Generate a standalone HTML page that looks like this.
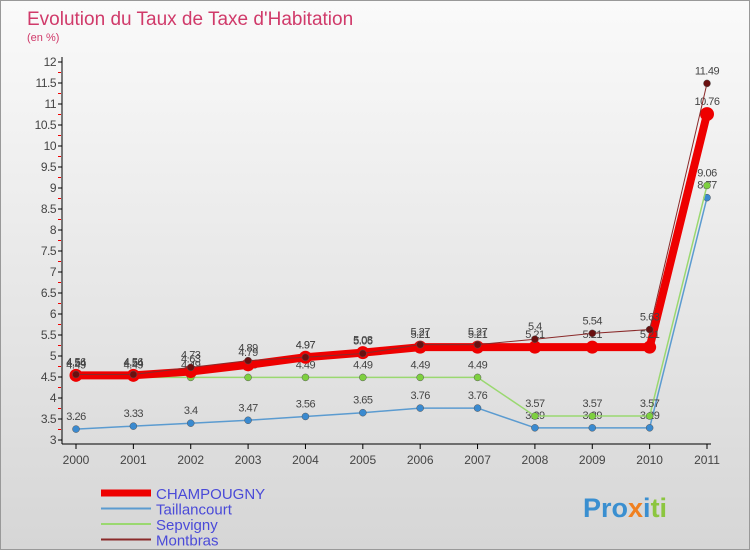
<!DOCTYPE html>
<html><head><meta charset="utf-8"><style>
body{margin:0;width:750px;height:550px;overflow:hidden;font-family:"Liberation Sans",sans-serif}
#wrap{position:absolute;left:0;top:0;width:748px;height:548px;border:1px solid #999;background:linear-gradient(#fafafa,#d6d6d6)}
</style></head><body>
<div id="wrap">
<svg id="c" width="750" height="550" style="position:absolute;left:0;top:0">
<text x="26" y="24" font-size="19" fill="#d03a6a">Evolution du Taux de Taxe d'Habitation</text>
<text x="26" y="40" font-size="11" fill="#d03a6a">(en %)</text>
<g id="axes"></g><g id="series"></g><g id="legend"></g>
<text x="582" y="516" font-size="27" font-weight="bold" fill="#3a8fd0">Pro<tspan fill="#f08020">x</tspan><tspan fill="#3a8fd0">i</tspan><tspan fill="#8cc63f">ti</tspan></text>
</svg></div>
<script>
const years=["2000","2001","2002","2003","2004","2005","2006","2007","2008","2009","2010","2011"];
const yTicks=[3,3.5,4,4.5,5,5.5,6,6.5,7,7.5,8,8.5,9,9.5,10,10.5,11,11.5,12];
const champougny=[4.54,4.54,4.63,4.79,4.97,5.08,5.21,5.21,5.21,5.21,5.21,10.76];
const taillancourt=[3.26,3.33,3.4,3.47,3.56,3.65,3.76,3.76,3.29,3.29,3.29,8.77];
const sepvigny=[4.49,4.49,4.49,4.49,4.49,4.49,4.49,4.49,3.57,3.57,3.57,9.06];
const montbras=[4.56,4.56,4.73,4.89,4.97,5.06,5.27,5.27,5.4,5.54,5.63,11.49];
const names=["CHAMPOUGNY","Taillancourt","Sepvigny","Montbras"];
const NS="http://www.w3.org/2000/svg";
const X=i=>75+i*(631/11), Y=v=>439-(v-3)*42;
function mk(t,a,p){const e=document.createElementNS(NS,t);for(const k in a)e.setAttribute(k,a[k]);p.appendChild(e);return e;}
const ax=document.getElementById('axes');
let l=mk('line',{x1:61,y1:56,x2:61,y2:443,stroke:'#000'},ax);


l=mk('line',{x1:61,y1:443,x2:710,y2:443,stroke:'#000'},ax);


yTicks.forEach((v,k)=>{const y=Y(v);mk('line',{x1:57,y1:y,x2:61,y2:y,stroke:'#000'},ax);
 if(k>0) mk('line',{x1:57,y1:y+10.5,x2:60,y2:y+10.5,stroke:'#e00'},ax);
 const t=mk('text',{x:55,y:y+4,'font-size':12,fill:'#444','text-anchor':'end','letter-spacing':'-0.5'},ax);t.textContent=String(v);
 
 });
years.forEach((yr,i)=>{const x=X(i);mk('line',{x1:x,y1:443,x2:x,y2:448,stroke:'#000'},ax);
 const t=mk('text',{x:x,y:463,'font-size':12,fill:'#444','text-anchor':'middle'},ax);t.textContent=yr;
 
 });
const sg=document.getElementById('series');
const defs=[[taillancourt,'#5b9bd0','#3a8ad0',1.5,3.5,'taillancourt'],[sepvigny,'#9ad870','#7ed040',1.5,3.5,'sepvigny'],[champougny,'#ee0000','#ee0000',8,6.5,'champougny'],[montbras,'#8a2a2a','#6a1010',1,3.5,'montbras']];
defs.forEach(([d,c,m,w,r,n])=>{
 const p=mk('polyline',{points:d.map((v,i)=>X(i)+','+Y(v)).join(' '),fill:'none',stroke:c,'stroke-width':w,'stroke-linejoin':'round'},sg);
 
 
 d.forEach((v,i)=>{const e=mk('circle',{cx:X(i),cy:Y(v),r:(n=='champougny'&&i==11)?7:r,fill:m,stroke:n=='champougny'?'none':'#555','stroke-width':0.5},sg);
  
  
  const t=mk('text',{x:X(i),y:Y(v)-9,'font-size':11,fill:'#444','text-anchor':'middle','letter-spacing':'-0.5'},sg);t.textContent=String(v);
  
  });
});
const lg=document.getElementById('legend');
const lc=['#ee0000','#5b9bd0','#9ad870','#8a2a2a'],lw=[7,2,2,2];
names.forEach((n,i)=>{const y=492+i*15.5;
 const e=mk('line',{x1:100,y1:y,x2:150,y2:y,stroke:lc[i],'stroke-width':lw[i]},lg);
 
 
 const t=mk('text',{x:155,y:y+6,'font-size':15,fill:'#4a4ad8'},lg);t.textContent=n;
 
 });
</script></body></html>
